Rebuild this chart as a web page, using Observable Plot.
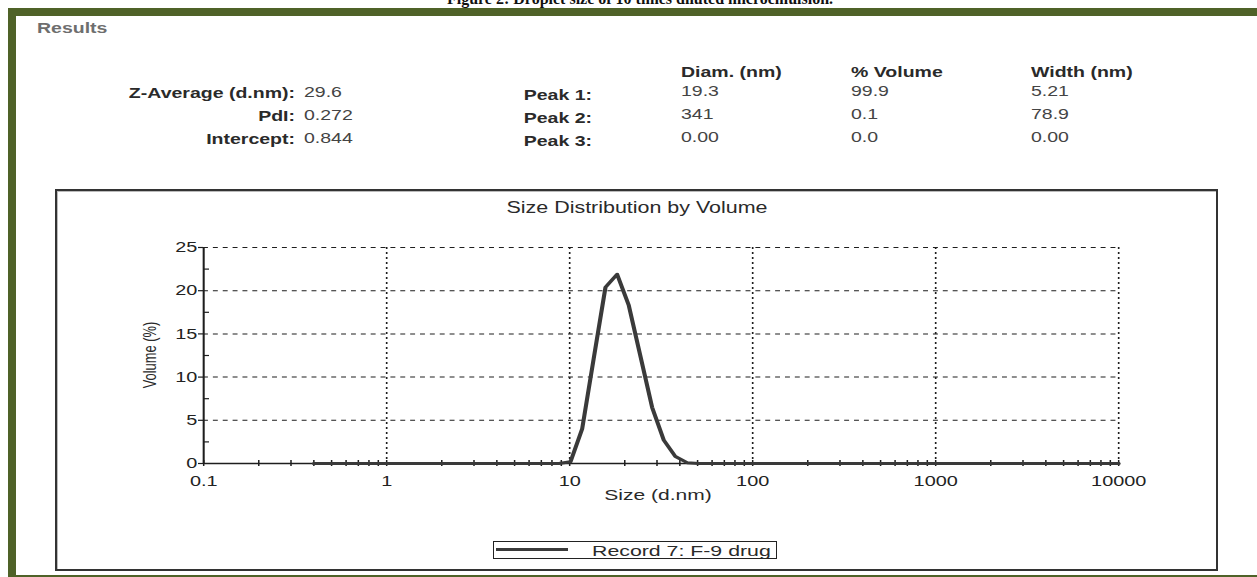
<!DOCTYPE html>
<html>
<head>
<meta charset="utf-8">
<script src="https://cdn.jsdelivr.net/npm/d3@7"></script>
<script src="https://cdn.jsdelivr.net/npm/@observablehq/plot@0.6"></script>
<style>
  html, body { margin: 0; padding: 0; background: #fff; }
  body { width: 1257px; height: 577px; position: relative; overflow: hidden; font-family: "Liberation Sans", Arial, sans-serif; }
  .abs { position: absolute; }
  .t { position: absolute; white-space: nowrap; line-height: 1; transform-origin: 0 0; }
</style>
</head>
<body>
<script>
// ---------- data ----------
const sizes = [0.4, 0.4632, 0.5365, 0.6213, 0.7195, 0.8332, 0.9649, 1.117, 1.294, 1.499,
  1.736, 2.010, 2.328, 2.696, 3.122, 3.615, 4.187, 4.849, 5.615, 6.503,
  7.531, 8.721, 10.10, 11.70, 13.54, 15.69, 18.17, 21.04, 24.36, 28.21,
  32.67, 37.84, 43.82, 50.75, 58.77, 68.06, 78.82, 91.28, 105.7, 122.4,
  141.8, 164.2, 190.1, 220.2, 255.0, 295.3, 342.0, 396.1, 458.7, 531.2,
  615.1, 712.4, 825.0, 955.4, 1106, 1281, 1484, 1718, 1990, 2305,
  2669, 3091, 3580, 4145, 4801, 5560, 6439, 7456, 8635, 10000];
const volumes = [0, 0, 0, 0, 0, 0, 0, 0, 0, 0,
  0, 0, 0, 0, 0, 0, 0, 0, 0, 0,
  0, 0, 0.2, 4.0, 12.2, 20.4, 21.9, 18.3, 12.4, 6.5,
  2.7, 0.8, 0.1, 0, 0, 0, 0, 0, 0, 0,
  0, 0, 0, 0, 0, 0, 0, 0, 0, 0,
  0, 0, 0, 0, 0, 0, 0, 0, 0, 0,
  0, 0, 0, 0, 0, 0, 0, 0, 0, 0];

const xTickValues = [0.1, 1, 10, 100, 1000, 10000];
const xTickLabels = ["0.1", "1", "10", "100", "1000", "10000"];
const xMinorFactors = [2, 3, 4, 5, 6, 7, 8, 9];
const yTickValues = [0, 5, 10, 15, 20, 25];
const yMinorValues = [2.5, 7.5, 12.5, 17.5, 22.5];

const chartTitle = "Size Distribution by Volume";
const xLabel = "Size (d.nm)";
const yLabel = "Volume (%)";
const legendLabel = "Record 7: F-9 drug";
const figureCaption = "Figure 2: Droplet size of 10 times diluted microemulsion.";

const resultsLeftLabels = ["Z-Average (d.nm):", "PdI:", "Intercept:"];
const resultsLeftValues = ["29.6", "0.272", "0.844"];
const peakLabels = ["Peak 1:", "Peak 2:", "Peak 3:"];
const peakHeaders = ["Diam. (nm)", "% Volume", "Width (nm)"];
const peakDiam = ["19.3", "341", "0.00"];
const peakVolume = ["99.9", "0.1", "0.0"];
const peakWidth = ["5.21", "78.9", "0.00"];

// ---------- helpers ----------
const body = document.body;
function box(x, y, w, h, style) {
  const d = document.createElement("div");
  d.className = "abs";
  Object.assign(d.style, {left: x + "px", top: y + "px", width: w + "px", height: h + "px"}, style || {});
  body.appendChild(d);
  return d;
}
function txt(s, x, cy, o) {
  o = o || {};
  const d = document.createElement("div");
  d.className = "t";
  d.textContent = s;
  const tx = o.anchor === "end" ? "-100%" : o.anchor === "middle" ? "-50%" : "0";
  Object.assign(d.style, {
    left: x + "px", top: cy + "px",
    fontSize: (o.size || 14) + "px",
    fontWeight: o.bold ? "bold" : "normal",
    color: o.color || "#333",
    fontFamily: o.family || '"Liberation Sans", Arial, sans-serif',
    transform: `scaleX(${o.sx || 1}) translate(${tx}, -50%)`
  });
  body.appendChild(d);
  return d;
}

// ---------- frame ----------
const green = "#4f6228";
txt(figureCaption, 640, -1, {anchor: "middle", size: 16, bold: true, color: "#111", family: '"Liberation Serif", "Times New Roman", serif'});
box(8, 8, 1249, 8, {background: green});
box(8, 8, 8, 569, {background: green});
box(8, 575, 1249, 2, {background: green});

// ---------- results table ----------
const tsx = 1.3;
txt("Results", 37, 27, {size: 15, bold: true, color: "#6e6e6e", sx: tsx});
peakHeaders.forEach((h, i) => txt(h, [681, 851, 1031][i], 71, {size: 15, bold: true, color: "#2a2a2a", sx: tsx}));
resultsLeftLabels.forEach((l, i) => txt(l, 295, 92 + 23 * i, {anchor: "end", size: 15, bold: true, color: "#2a2a2a", sx: tsx}));
resultsLeftValues.forEach((v, i) => txt(v, 304, 91 + 23 * i, {size: 15, color: "#444", sx: tsx}));
peakLabels.forEach((l, i) => txt(l, 592, 94 + 23 * i, {anchor: "end", size: 15, bold: true, color: "#2a2a2a", sx: tsx}));
peakDiam.forEach((v, i) => txt(v, 681, 90 + 23 * i, {size: 15, color: "#444", sx: tsx}));
peakVolume.forEach((v, i) => txt(v, 851, 90 + 23 * i, {size: 15, color: "#444", sx: tsx}));
peakWidth.forEach((v, i) => txt(v, 1031, 90 + 23 * i, {size: 15, color: "#444", sx: tsx}));

// ---------- chart ----------
const s = 1.37;                 // horizontal stretch of the original picture
const boxLeft = 55, boxTop = 189, boxW = 1163, boxH = 382;
const W = boxW / s;
const mL = (203 - boxLeft) / s, mR = (boxLeft + boxW - 1118) / s;
const mT = 247 - boxTop, mB = boxTop + boxH - 463;
const plotW = W - mL - mR, plotH = boxH - mT - mB;

const xMinor = xTickValues.slice(0, -1).flatMap(d => xMinorFactors.map(f => d * f));
const data = sizes.map((x, i) => ({size: x, volume: volumes[i]}));
const ink = "#1e1e1e";

const svg = Plot.plot({
  width: W, height: boxH,
  marginLeft: mL, marginRight: mR, marginTop: mT, marginBottom: mB,
  x: {type: "log", domain: [xTickValues[0], xTickValues[xTickValues.length - 1]]},
  y: {domain: [yTickValues[0], yTickValues[yTickValues.length - 1]]},
  style: {fontFamily: '"Liberation Sans", Arial, sans-serif', fontSize: "14.5px", color: "#222", background: "transparent"},
  marks: [
    Plot.ruleY(yTickValues.slice(1), {stroke: ink, strokeWidth: 1, strokeDasharray: "3.6,3.6"}),
    Plot.ruleX(xTickValues.slice(1), {stroke: ink, strokeWidth: 1.2, strokeDasharray: "2,3"}),
    Plot.ruleX(xMinor.concat(xTickValues), {stroke: ink, strokeWidth: 1.1, insetTop: plotH - 3, insetBottom: -3}),
    Plot.ruleY(yMinorValues, {stroke: ink, strokeWidth: 1.2, insetRight: plotW - 6 / s}),
    Plot.ruleX([xTickValues[0]], {stroke: ink, strokeWidth: 1.5}),
    Plot.ruleY([yTickValues[0]], {stroke: ink, strokeWidth: 1.5}),
    Plot.axisX({ticks: xTickValues, tickSize: 0, tickPadding: 12, label: null,
      tickFormat: d => xTickLabels[xTickValues.indexOf(d)]}),
    Plot.axisY({ticks: yTickValues, tickSize: 5 / s, tickPadding: 1, label: null, stroke: ink, strokeWidth: 1.2}),
    Plot.line(data, {x: "size", y: "volume", stroke: "#3a3a3a", strokeWidth: 3, strokeLinejoin: "round"})
  ]
});
svg.setAttribute("width", boxW);
svg.setAttribute("height", boxH);
svg.setAttribute("preserveAspectRatio", "none");
Object.assign(svg.style, {position: "absolute", left: boxLeft + "px", top: boxTop + "px",
  width: boxW + "px", height: boxH + "px", maxWidth: "none", background: "transparent"});
body.appendChild(svg);

// chart border
box(boxLeft, boxTop, boxW, boxH, {boxSizing: "border-box", border: "2px solid #333", boxShadow: "inset 1px 1px 0 #bbb"});

// chart title and axis labels
txt(chartTitle, 637, 208, {anchor: "middle", size: 16, color: "#2a2a2a", sx: 1.34});
txt(xLabel, 658, 494, {anchor: "middle", size: 15, color: "#2a2a2a", sx: 1.4});
const yl = document.createElement("div");
yl.className = "abs";
yl.textContent = yLabel;
Object.assign(yl.style, {left: "149px", top: "355px", fontSize: "14px", lineHeight: "1", whiteSpace: "nowrap",
  color: "#2a2a2a", transformOrigin: "50% 50%",
  transform: "translate(-50%, -50%) rotate(-90deg) scale(0.92, 1.37)"});
body.appendChild(yl);

// legend
const lg = box(492.7, 541, 284, 18, {boxSizing: "border-box", border: "1.5px solid #222", background: "#fff"});
const lline = document.createElement("div");
Object.assign(lline.style, {position: "absolute", left: "2px", top: "6px", width: "72px", height: "3px", background: "#3a3a3a"});
lg.appendChild(lline);
txt(legendLabel, 592, 550, {size: 15, color: "#2a2a2a", sx: 1.42});
</script>
</body>
</html>
